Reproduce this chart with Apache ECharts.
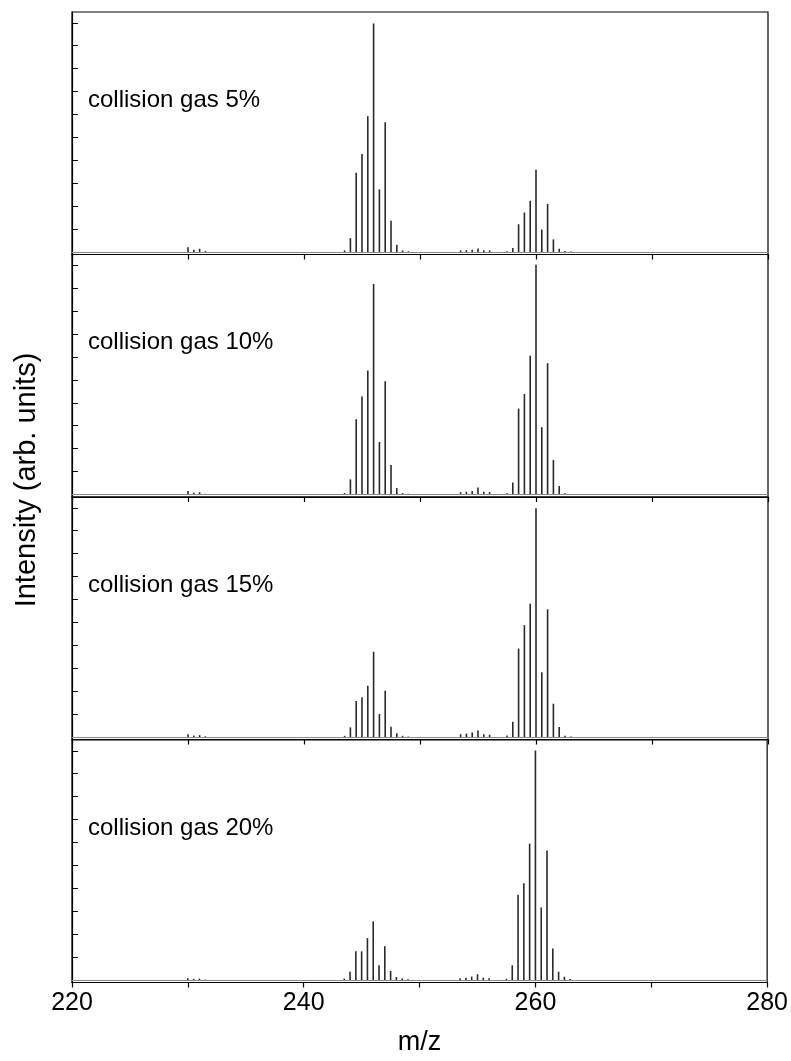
<!DOCTYPE html>
<html>
<head>
<meta charset="utf-8">
<title>collision gas spectra</title>
<script src="https://cdn.jsdelivr.net/npm/echarts@6/dist/echarts.min.js"></script>
<style>
  html, body { margin: 0; padding: 0; background: #fff; }
  #chart { width: 791px; height: 1061px; }
</style>
</head>
<body>
<div id="chart"></div>
<script>
// peak positions (m/z)
var mz = [230.0, 230.5, 231.0, 231.5,
  243.5, 244.0, 244.5, 245.0, 245.5, 246.0, 246.5, 247.0, 247.5, 248.0, 248.5, 249.0,
  253.5, 254.0, 254.5, 255.0, 255.5, 256.0,
  257.5, 258.0, 258.5, 259.0, 259.5, 260.0, 260.5, 261.0, 261.5, 262.0, 262.5, 263.0];

// intensities (tick units)
var gas5 = [0.21, 0.10, 0.14, 0.04,
  0.07, 0.60, 3.46, 4.27, 5.92, 9.97, 2.73, 5.66, 1.36, 0.31, 0.07, 0.03,
  0.07, 0.08, 0.10, 0.15, 0.08, 0.07,
  0.03, 0.17, 1.21, 1.72, 2.24, 3.59, 0.98, 2.09, 0.55, 0.14, 0.04, 0.02];
var gas10 = [0.15, 0.08, 0.10, 0.03,
  0.06, 0.66, 3.28, 4.27, 5.41, 9.18, 2.29, 4.94, 1.29, 0.28, 0.06, 0.03,
  0.10, 0.12, 0.15, 0.30, 0.12, 0.10,
  0.05, 0.52, 3.75, 4.39, 6.05, 10.02, 2.93, 5.73, 1.51, 0.37, 0.05, 0.02];
var gas15 = [0.12, 0.06, 0.08, 0.03,
  0.05, 0.42, 1.57, 1.73, 2.24, 3.72, 1.00, 2.02, 0.45, 0.16, 0.05, 0.02,
  0.12, 0.15, 0.20, 0.28, 0.12, 0.10,
  0.06, 0.66, 3.86, 4.88, 5.81, 9.98, 2.82, 5.57, 1.45, 0.44, 0.05, 0.02];
var gas20 = [0.08, 0.05, 0.06, 0.02,
  0.06, 0.36, 1.25, 1.25, 1.83, 2.56, 0.64, 1.47, 0.39, 0.13, 0.06, 0.03,
  0.08, 0.10, 0.15, 0.25, 0.10, 0.08,
  0.05, 0.64, 3.72, 4.22, 5.95, 10.01, 3.16, 5.65, 1.37, 0.36, 0.14, 0.04];

var panelNames = ["collision gas 5%", "collision gas 10%", "collision gas 15%", "collision gas 20%"];
var panelData = [gas5, gas10, gas15, gas20];
var yTicks = [1, 2, 3, 4, 5, 6, 7, 8, 9, 10];
var xLabels = [220, 240, 260, 280];

var font = "Liberation Sans, Arial, sans-serif";
var tops = [12, 254.5, 497, 740];
var panelH = 242.5;

var chart = echarts.init(document.getElementById("chart"));

var grids = [], xAxes = [], yAxes = [], series = [], titles = [];
for (var i = 0; i < 4; i++) {
  var last = i === 3;
  grids.push({
    left: 72, right: 23, top: tops[i], height: panelH,
    show: true, borderColor: "#000", borderWidth: 1.2, backgroundColor: "transparent"
  });
  xAxes.push({
    type: "value", gridIndex: i, min: 220, max: 280, interval: 10,
    axisLine: { show: true, onZero: false, lineStyle: { color: "#000", width: 1.2 } },
    axisTick: { show: true, inside: false, length: 5, lineStyle: { color: "#000", width: 1.2 } },
    axisLabel: {
      show: last, color: "#000", fontSize: 25, fontFamily: font, margin: 8,
      formatter: function (v) { return xLabels.indexOf(v) >= 0 ? String(v) : ""; }
    },
    splitLine: { show: false },
    name: last ? "m/z" : "", nameLocation: "middle", nameGap: 47,
    nameTextStyle: { color: "#000", fontSize: 27, fontFamily: font }
  });
  yAxes.push({
    type: "value", gridIndex: i, min: -0.11, max: 10.47,
    axisLine: { show: true, lineStyle: { color: "#000", width: 1.2 } },
    axisTick: { show: true, inside: true, length: 6, customValues: yTicks, lineStyle: { color: "#000", width: 1 } },
    axisLabel: { show: false },
    splitLine: { show: false }
  });
  series.push({
    type: "bar", xAxisIndex: i, yAxisIndex: i, barWidth: 1.6,
    itemStyle: { color: "#2a2a2a" },
    data: mz.map(function (m, k) { return [m, panelData[i][k]]; }),
    markLine: {
      silent: true, symbol: ["none", "none"], label: { show: false },
      lineStyle: { color: "#8a8a8a", width: 1.2, type: "solid" },
      data: [{ yAxis: 0 }]
    }
  });
  titles.push({
    text: panelNames[i], left: 88, top: tops[i] + 76, padding: 0,
    textStyle: { color: "#000", fontSize: 24, fontWeight: "normal", fontFamily: font }
  });
}

var option = {
  animation: false,
  backgroundColor: "#fff",
  title: titles,
  grid: grids,
  xAxis: xAxes,
  yAxis: yAxes,
  series: series,
  graphic: [{
    type: "text", x: 27, y: 480,
    rotation: Math.PI / 2,
    style: {
      text: "Intensity (arb. units)", fill: "#000", fontSize: 29, fontFamily: font,
      align: "center", verticalAlign: "middle"
    }
  }]
};
chart.setOption(option);
</script>
</body>
</html>
